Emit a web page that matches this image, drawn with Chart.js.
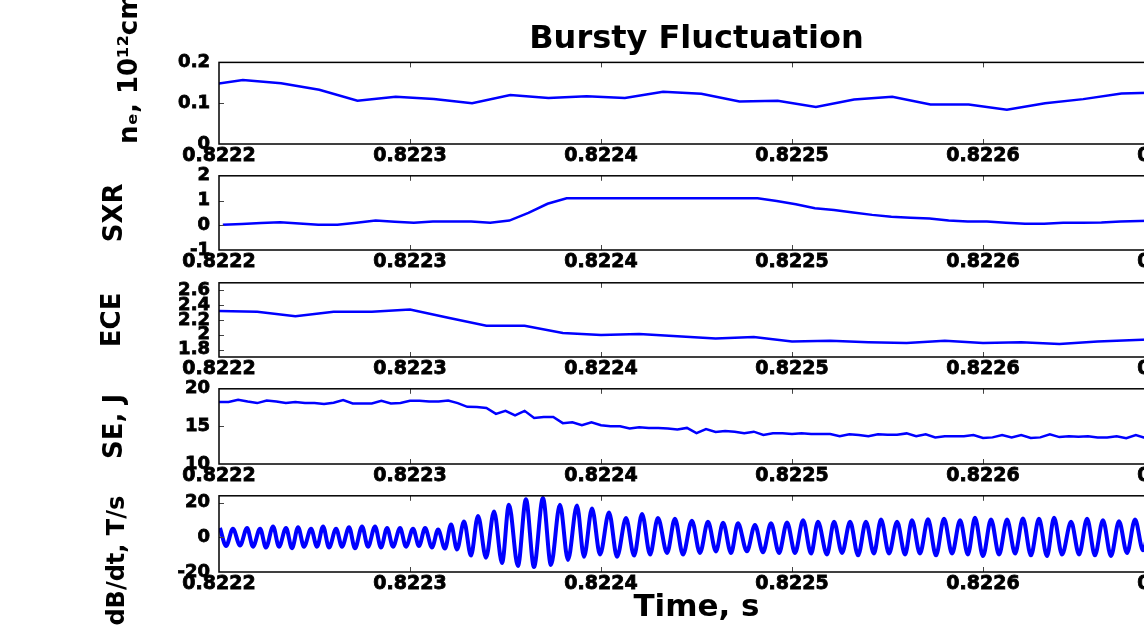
<!DOCTYPE html>
<html>
<head>
<meta charset="utf-8">
<script src="https://cdn.jsdelivr.net/npm/chart.js@4.4.1/dist/chart.umd.min.js"></script>
<style>
  html, body { margin: 0; padding: 0; background: #fff; overflow: hidden; }
  #wrap { position: relative; width: 1144px; height: 631px; overflow: hidden; }
  #wrap canvas { position: absolute; left: 0; }
</style>
</head>
<body>
<div id="wrap">
  <canvas id="cNe" width="1390" height="174" style="top:0px"></canvas>
  <canvas id="cSxr" width="1390" height="124" style="top:156px"></canvas>
  <canvas id="cEce" width="1390" height="124" style="top:263px"></canvas>
  <canvas id="cSe" width="1390" height="125" style="top:369px"></canvas>
  <canvas id="cDb" width="1390" height="155" style="top:476px"></canvas>
</div>
<script>
// time axis (s); sample times below are microseconds after T0
const T0 = 0.8222;
const xTickValues = [0.8222, 0.8223, 0.8224, 0.8225, 0.8226, 0.8227];

// density n_e
const neTimeUs = [-7.5, 12.5, 32.5, 52.5, 72.5, 92.5, 112.5, 132.5, 152.5, 172.5, 192.5, 212.5, 232.5,
  252.5, 272.5, 292.5, 312.5, 332.5, 352.5, 372.5, 392.5, 412.5, 432.5, 452.5, 472.5, 492.5, 512.5];
const neValues = [0.143, 0.157, 0.149, 0.133, 0.106, 0.116, 0.110, 0.100, 0.120, 0.113, 0.117, 0.113, 0.128,
  0.123, 0.104, 0.106, 0.091, 0.109, 0.116, 0.097, 0.097, 0.084, 0.100, 0.110, 0.124, 0.126, 0.127];
const neTicks = [0, 0.1, 0.2];

// soft x-ray
const sxrTimeUs = [2, 12, 22, 32, 42, 52, 62, 72, 82, 92, 102, 112, 122, 132, 142, 152, 162, 172, 182, 192,
  202, 212, 222, 232, 242, 252, 262, 272, 282, 292, 302, 312, 322, 332, 342, 352, 362, 372, 382, 392,
  402, 412, 422, 432, 442, 452, 462, 472, 482, 492, 502];
const sxrValues = [0.02, 0.05, 0.09, 0.12, 0.07, 0.02, 0.02, 0.10, 0.19, 0.14, 0.10, 0.15, 0.15, 0.15, 0.10,
  0.19, 0.50, 0.87, 1.09, 1.09, 1.09, 1.09, 1.09, 1.09, 1.09, 1.09, 1.09, 1.09, 1.09, 0.98, 0.85, 0.69,
  0.62, 0.52, 0.42, 0.34, 0.30, 0.27, 0.19, 0.15, 0.15, 0.10, 0.06, 0.06, 0.10, 0.10, 0.11, 0.15, 0.17,
  0.19, 0.20];
const sxrTicks = [-1, 0, 1, 2];

// ECE
const eceTimeUs = [0, 20, 40, 60, 80, 100, 120, 140, 160, 180, 200, 220, 240, 260, 280, 300, 320, 340, 360,
  380, 400, 420, 440, 460, 480, 500];
const eceValues = [2.32, 2.31, 2.25, 2.31, 2.31, 2.34, 2.23, 2.12, 2.12, 2.025, 1.996, 2.01, 1.98, 1.95, 1.97,
  1.91, 1.92, 1.90, 1.89, 1.92, 1.89, 1.90, 1.875, 1.91, 1.93, 1.95];
const eceTicks = [1.8, 2, 2.2, 2.4, 2.6];

// stored energy
const seTimeUs = [0, 5, 10, 15, 20, 25, 30, 35, 40, 45, 50, 55, 60, 65, 70, 75, 80, 85, 90, 95,
  100, 105, 110, 115, 120, 125, 130, 135, 140, 145, 150, 155, 160, 165, 170, 175, 180, 185, 190, 195,
  200, 205, 210, 215, 220, 225, 230, 235, 240, 245, 250, 255, 260, 265, 270, 275, 280, 285, 290, 295,
  300, 305, 310, 315, 320, 325, 330, 335, 340, 345, 350, 355, 360, 365, 370, 375, 380, 385, 390, 395,
  400, 405, 410, 415, 420, 425, 430, 435, 440, 445, 450, 455, 460, 465, 470, 475, 480, 485, 490, 495, 500];
const seValues = [18.23, 18.25, 18.55, 18.3, 18.1, 18.43, 18.3, 18.1, 18.23, 18.1,
  18.1, 17.99, 18.15, 18.5, 18.06, 18.06, 18.06, 18.4, 18.06, 18.1,
  18.4, 18.4, 18.3, 18.3, 18.43, 18.1, 17.6, 17.57, 17.45, 16.67,
  17.07, 16.46, 17.07, 16.13, 16.25, 16.25, 15.43, 15.56, 15.15, 15.56,
  15.15, 15.02, 15.02, 14.73, 14.9, 14.8, 14.8, 14.73, 14.6, 14.8,
  14.1, 14.65, 14.25, 14.4, 14.3, 14.1, 14.3, 13.86, 14.1, 14.1,
  14.0, 14.1, 14.0, 14.0, 14.0, 13.7, 13.95, 13.86, 13.7, 13.95,
  13.9, 13.9, 14.07, 13.7, 13.95, 13.54, 13.7, 13.7, 13.7, 13.86,
  13.46, 13.54, 13.86, 13.54, 13.86, 13.46, 13.54, 13.95, 13.58, 13.7,
  13.62, 13.7, 13.54, 13.54, 13.7, 13.42, 13.86, 13.46, 13.6, 13.5, 13.6];
const seTicks = [10, 15, 20];

// magnetic probe dB/dt (peaks and troughs)
const dbTimeUs = [0.5, 3.7, 7.3, 11.0, 14.7, 17.8, 21.5, 24.6, 28.3, 31.4, 35.1, 38.2, 41.4, 44.5, 48.2, 51.3,
  54.5, 57.6, 61.3, 64.4, 68.1, 71.2, 74.9, 78.0, 81.7, 84.8, 88.0, 91.1, 94.8, 97.9, 101.6, 104.7,
  107.9, 111.5, 114.7, 118.3, 121.5, 124.6, 128.3, 131.9, 135.6, 139.8, 144.0, 148.2, 151.8, 156.5,
  160.7, 164.9, 169.6, 173.8, 178.5, 182.7, 187.4, 191.1, 195.3, 199.5, 204.2, 208.4, 213.1, 217.3,
  221.5, 225.7, 229.8, 234.6, 238.7, 242.9, 247.6, 251.8, 256.0, 260.2, 263.9, 268.1, 271.7, 276.4,
  280.6, 284.8, 289.0, 293.2, 297.4, 301.6, 305.8, 310.0, 313.6, 318.3, 322.0, 326.2, 330.4, 334.6,
  338.7, 342.9, 346.6, 350.8, 355.0, 359.2, 362.8, 367.0, 371.2, 375.4, 379.6, 383.8, 388.0, 392.1,
  395.8, 400.0, 404.2, 408.4, 412.6, 416.8, 420.9, 425.1, 429.3, 433.5, 437.2, 441.4, 446.1, 450.3,
  454.5, 458.6, 462.8, 467.0, 471.2, 475.4, 479.6, 483.8, 488.0, 492.2, 496.3, 500.5];
const dbValues = [5.4, -5.0, 5.0, -4.7, 5.4, -5.4, 5.0, -5.9, 6.3, -5.4, 5.4, -6.3, 5.8, -5.4, 5.0, -5.4,
  6.3, -5.9, 5.0, -5.4, 5.8, -6.3, 6.3, -5.4, 6.3, -5.9, 5.4, -5.4, 5.4, -5.4, 5.0, -5.0,
  5.4, -5.9, 4.5, -6.5, 7.4, -7.0, 9.2, -10.5, 12.4, -11.7, 15.0, -14.8, 18.9, -16.6,
  22.0, -17.1, 22.8, -15.9, 18.9, -13.0, 18.4, -11.2, 16.6, -9.9, 14.4, -11.2, 11.2, -10.5,
  13.5, -9.9, 11.2, -9.0, 10.8, -9.9, 9.6, -9.0, 9.0, -8.1, 8.5, -9.0, 8.1, -8.0,
  7.2, -8.6, 8.1, -9.0, 8.6, -9.0, 9.9, -9.3, 9.0, -9.9, 9.0, -9.0, 9.0, -10.4,
  9.0, -9.3, 10.3, -9.3, 9.0, -9.9, 9.9, -9.3, 10.4, -10.4, 10.8, -9.3, 9.9, -9.9,
  11.3, -10.8, 10.3, -9.9, 10.3, -9.3, 10.9, -10.4, 10.8, -10.8, 11.3, -9.9, 9.0, -9.9,
  10.8, -10.4, 9.9, -10.8, 9.3, -9.0, 10.3, -7.5, 9.0, -9.0, 9.0, -9.0];
const dbTicks = [-20, 0, 20];

const FONT = "'DejaVu Sans', sans-serif";

function toPoints(timesUs, values) {
    return timesUs.map((us, i) => ({ x: T0 + us * 1e-6, y: values[i] }));
}

// MATLAB style box with small inward ticks
const boxPlugin = {
    id: 'matlabBox',
    afterDatasetsDraw(chart) {
        const { ctx, chartArea: a, scales: { x, y } } = chart;
        ctx.save();
        ctx.strokeStyle = '#444';
        ctx.lineWidth = 1;
        ctx.beginPath();
        x.ticks.forEach((t) => {
            const px = Math.round(x.getPixelForValue(t.value)) + 0.5;
            if (px <= a.left + 2 || px >= a.right - 2) return;
            ctx.moveTo(px, a.top); ctx.lineTo(px, a.top + 5);
            ctx.moveTo(px, a.bottom); ctx.lineTo(px, a.bottom - 5);
        });
        y.ticks.forEach((t) => {
            const py = Math.round(y.getPixelForValue(t.value)) + 0.5;
            if (py <= a.top + 2 || py >= a.bottom - 2) return;
            ctx.moveTo(a.left, py); ctx.lineTo(a.left + 5, py);
            ctx.moveTo(a.right, py); ctx.lineTo(a.right - 5, py);
        });
        ctx.stroke();
        ctx.strokeStyle = '#000';
        ctx.lineWidth = 1.5;
        ctx.strokeRect(a.left, a.top, a.right - a.left, a.bottom - a.top);
        ctx.restore();
    }
};

function xAxis(isLast) {
    return {
        type: 'linear',
        min: 0.8222,
        max: 0.8227,
        grid: { display: false, drawTicks: false },
        border: { display: false },
        afterBuildTicks: (s) => { s.ticks = xTickValues.map((v) => ({ value: v })); },
        afterFit: (s) => { s.height = isLast ? 59 : 30; },
        ticks: {
            color: '#000',
            padding: 1,
            maxRotation: 0,
            autoSkip: false,
            textStrokeColor: '#000',
            textStrokeWidth: 0.8,
            font: { family: FONT, size: 19, weight: 'bold' },
            callback: (v) => v.toFixed(4)
        },
        title: {
            display: isLast,
            text: 'Time, s',
            color: '#000',
            font: { family: FONT, size: 31, weight: 'bold' },
            padding: { top: 0, bottom: 4 }
        }
    };
}

function yAxis(min, max, tickValues, title, titlePad, titleAlign, titleSize) {
    return {
        min: min,
        max: max,
        grid: { display: false, drawTicks: false },
        border: { display: false },
        afterBuildTicks: (s) => { s.ticks = tickValues.map((v) => ({ value: v })); },
        afterFit: (s) => { s.width = 219; },
        ticks: {
            color: '#000',
            padding: 9,
            autoSkip: false,
            textStrokeColor: '#000',
            textStrokeWidth: 0.8,
            font: { family: FONT, size: 18, weight: 'bold' },
            callback: (v) => String(v)
        },
        title: {
            display: true,
            text: title,
            align: titleAlign,
            color: '#000',
            font: { family: FONT, size: titleSize || 26, weight: 'bold' },
            padding: { top: titlePad, bottom: 0 }
        }
    };
}

function crearPanel(id, points, yCfg, opts) {
    const ctx = document.getElementById(id).getContext('2d');
    return new Chart(ctx, {
        type: 'line',
        data: {
            datasets: [{
                data: points,
                borderColor: '#0000ff',
                borderWidth: opts.lineWidth,
                pointRadius: 0,
                fill: false,
                tension: 0,
                cubicInterpolationMode: opts.smooth ? 'monotone' : 'default',
                clip: 0
            }]
        },
        options: {
            responsive: false,
            animation: false,
            layout: { padding: { top: opts.title ? 0 : 14, left: 0, right: 216, bottom: 0 } },
            plugins: {
                legend: { display: false },
                tooltip: { enabled: false },
                title: {
                    display: !!opts.title,
                    text: opts.title || '',
                    fullSize: false,
                    color: '#000',
                    font: { family: FONT, size: 32, weight: 'bold' },
                    padding: { top: 20, bottom: 4 }
                }
            },
            scales: {
                x: xAxis(!!opts.last),
                y: yCfg
            }
        },
        plugins: [boxPlugin]
    });
}

crearPanel('cNe', toPoints(neTimeUs, neValues),
    yAxis(0, 0.2, neTicks, 'n\u2091, 10\u00b9\u00b2cm\u207b\u00b3', 115, 'start'),
    { lineWidth: 2.5, title: 'Bursty Fluctuation' });
crearPanel('cSxr', toPoints(sxrTimeUs, sxrValues),
    yAxis(-1, 2, sxrTicks, 'SXR', 100, 'center'), { lineWidth: 2.5 });
crearPanel('cEce', toPoints(eceTimeUs, eceValues),
    yAxis(1.7, 2.7, eceTicks, 'ECE', 98, 'center'), { lineWidth: 2.5 });
crearPanel('cSe', toPoints(seTimeUs, seValues),
    yAxis(10, 20, seTicks, 'SE, J', 100, 'center'), { lineWidth: 2.5 });
crearPanel('cDb', toPoints(dbTimeUs, dbValues),
    yAxis(-20, 24, dbTicks, 'dB/dt, T/s', 103, 'end', 24), { lineWidth: 4, smooth: true, last: true });
</script>
</body>
</html>
